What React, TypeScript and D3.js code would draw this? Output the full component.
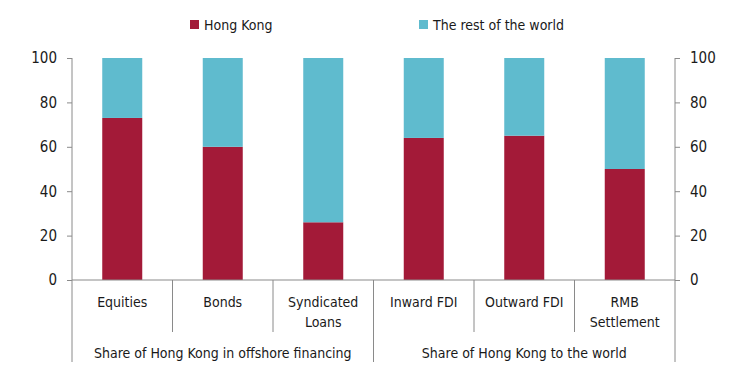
import React, { useEffect, useRef } from 'react';
import * as d3 from 'd3';

const categories = ['Equities', 'Bonds', 'Syndicated Loans', 'Inward FDI', 'Outward FDI', 'RMB Settlement'];
const categoryLines = [['Equities'], ['Bonds'], ['Syndicated', 'Loans'], ['Inward FDI'], ['Outward FDI'], ['RMB', 'Settlement']];
const hongKong = [73, 60, 26, 64, 65, 50];
const restOfWorld = hongKong.map(v => 100 - v);
const groups = [
  { label: 'Share of Hong Kong in offshore financing', from: 0, to: 2 },
  { label: 'Share of Hong Kong to the world', from: 3, to: 5 },
];
const yTicks = [0, 20, 40, 60, 80, 100];
const seriesNames = ['Hong Kong', 'The rest of the world'];
const colors = ['#A31A38', '#5FBBCE'];

const W = 743;
const H = 392;
const FONT = '"DejaVu Sans Condensed", "Liberation Sans Narrow", sans-serif';
const FS = 14;

export default function App() {
  const ref = useRef<SVGSVGElement>(null);

  useEffect(() => {
    const svg = d3.select(ref.current);
    svg.selectAll('*').remove();

    const left = 72, right = 675, top = 58, bottom = 280;
    const axisColor = '#8a8a8a';

    const x = d3.scaleBand().domain(categories).range([left, right]).paddingInner(0).paddingOuter(0);
    const y = d3.scaleLinear().domain([0, 100]).range([bottom, top]);
    const barW = 40;

    // stacked bars
    const rows = categories.map((c, i) => ({ cat: c, hk: hongKong[i], rest: restOfWorld[i] }));
    const stack = d3.stack<any>().keys(['hk', 'rest'])(rows);
    stack.forEach((layer, li) => {
      svg.append('g').selectAll('rect').data(layer).enter().append('rect')
        .attr('x', d => (x(d.data.cat) as number) + x.bandwidth() / 2 - barW / 2)
        .attr('width', barW)
        .attr('y', d => y(d[1]))
        .attr('height', d => y(d[0]) - y(d[1]))
        .attr('fill', colors[li]);
    });

    // left axis
    const la = svg.append('g').attr('transform', `translate(${left},0)`)
      .call(d3.axisLeft(y).tickValues(yTicks).tickSize(5).tickPadding(10));
    // right axis
    const ra = svg.append('g').attr('transform', `translate(${right},0)`)
      .call(d3.axisRight(y).tickValues(yTicks).tickSize(5).tickPadding(10));
    [la, ra].forEach(a => {
      a.select('.domain').attr('stroke', axisColor).attr('d', `M0,${y(100)}V${y(0)}`);
      a.selectAll('line').attr('stroke', axisColor);
      a.selectAll('text').attr('font-family', FONT).attr('font-size', 15).attr('fill', '#1a1a1a');
    });

    // bottom axis line
    svg.append('line').attr('x1', left).attr('x2', right).attr('y1', bottom).attr('y2', bottom)
      .attr('stroke', axisColor);

    // category separators
    categories.forEach((c, i) => {
      if (i === 0) return;
      const isGroupEdge = groups.some(g => g.from === i);
      svg.append('line')
        .attr('x1', x(c) as number).attr('x2', x(c) as number)
        .attr('y1', bottom).attr('y2', isGroupEdge ? 362 : 332)
        .attr('stroke', axisColor);
    });
    [left, right].forEach(px => {
      svg.append('line').attr('x1', px).attr('x2', px).attr('y1', bottom).attr('y2', 362)
        .attr('stroke', axisColor);
    });

    // category labels
    categoryLines.forEach((lines, i) => {
      const cx = (x(categories[i]) as number) + x.bandwidth() / 2;
      const t = svg.append('text').attr('text-anchor', 'middle')
        .attr('font-family', FONT).attr('font-size', FS).attr('fill', '#1a1a1a');
      lines.forEach((ln, j) => {
        t.append('tspan').attr('x', cx).attr('y', 307 + j * 20).text(ln);
      });
    });

    // group labels
    groups.forEach(g => {
      const x0 = x(categories[g.from]) as number;
      const x1 = (x(categories[g.to]) as number) + x.bandwidth();
      svg.append('text').attr('x', (x0 + x1) / 2).attr('y', 358).attr('text-anchor', 'middle')
        .attr('font-family', FONT).attr('font-size', FS).attr('fill', '#1a1a1a').text(g.label);
    });

    // legend
    const legendX = [190, 419];
    seriesNames.forEach((n, i) => {
      svg.append('rect').attr('x', legendX[i]).attr('y', 20).attr('width', 9).attr('height', 9).attr('fill', colors[i]);
      svg.append('text').attr('x', legendX[i] + 14).attr('y', 30)
        .attr('font-family', FONT).attr('font-size', FS).attr('fill', '#1a1a1a').text(n);
    });
  }, []);

  return (
    <svg ref={ref} width={W} height={H} style={{ position: 'absolute', left: 0, top: 0, background: '#fff' }} />
  );
}
